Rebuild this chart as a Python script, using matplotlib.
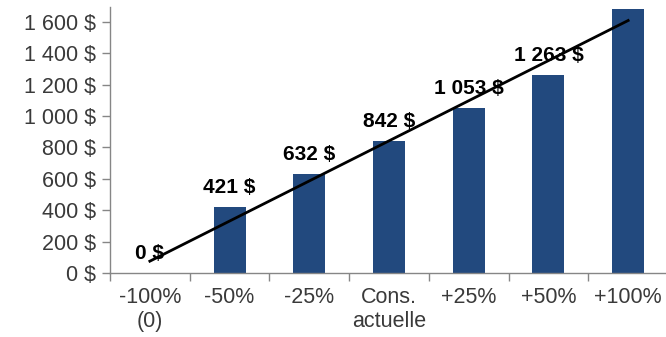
import numpy as np
import matplotlib.pyplot as plt
from matplotlib.ticker import FuncFormatter

# Data
categories = ['-100%\n(0)', '-50%', '-25%', 'Cons.\nactuelle', '+25%', '+50%', '+100%']
values = [0, 421, 632, 842, 1053, 1263, 1684]
# the last bar's label is cropped away in the original
value_labels = ['0 $', '421 $', '632 $', '842 $', '1 053 $', '1 263 $', '']

bar_color = '#22497E'
axis_color = '#868686'
text_color = '#3A3A3A'

plt.rcParams['font.family'] = ['Liberation Sans', 'DejaVu Sans']

fig = plt.figure(figsize=(6.66, 3.37), dpi=100)
# axes runs a little past the right edge, like the cropped original
ax = fig.add_axes([110 / 666, 64 / 337, 558 / 666, 266 / 337])

x = np.arange(len(categories))
ax.bar(x, values, width=0.4, color=bar_color, zorder=2)

# linear trend line over the bars
slope, icpt = np.polyfit(x, values, 1)
ax.plot(x, slope * x + icpt, color='black', lw=2, zorder=3)

for xi, v, lab in zip(x, values, value_labels):
    if lab:
        ax.annotate(lab, (xi, v), xytext=(0, 10), textcoords='offset points',
                    ha='center', va='baseline', fontsize=15, fontweight='bold',
                    color='black', zorder=4)

ax.set_xlim(-0.5, len(categories) - 0.5)
ax.set_ylim(0, 1695)

ax.set_yticks(np.arange(0, 1601, 200))
ax.yaxis.set_major_formatter(FuncFormatter(lambda v, p: f'{int(v):,} $'.replace(',', ' ')))

ax.set_xticks(x)
ax.set_xticklabels(categories)
ax.set_xticks(np.arange(-0.5, len(categories), 1), minor=True)

ax.tick_params(axis='x', which='major', length=0, pad=10, labelsize=15.5, labelcolor=text_color)
ax.tick_params(axis='x', which='minor', length=6, width=1, color=axis_color, direction='out')
ax.tick_params(axis='y', length=6, width=1, color=axis_color, direction='out',
               pad=4, labelsize=15.5, labelcolor=text_color)

for s in ['top', 'right']:
    ax.spines[s].set_visible(False)
for s in ['left', 'bottom']:
    ax.spines[s].set_color(axis_color)
    ax.spines[s].set_linewidth(1)

fig.savefig('out.png', dpi=100)
